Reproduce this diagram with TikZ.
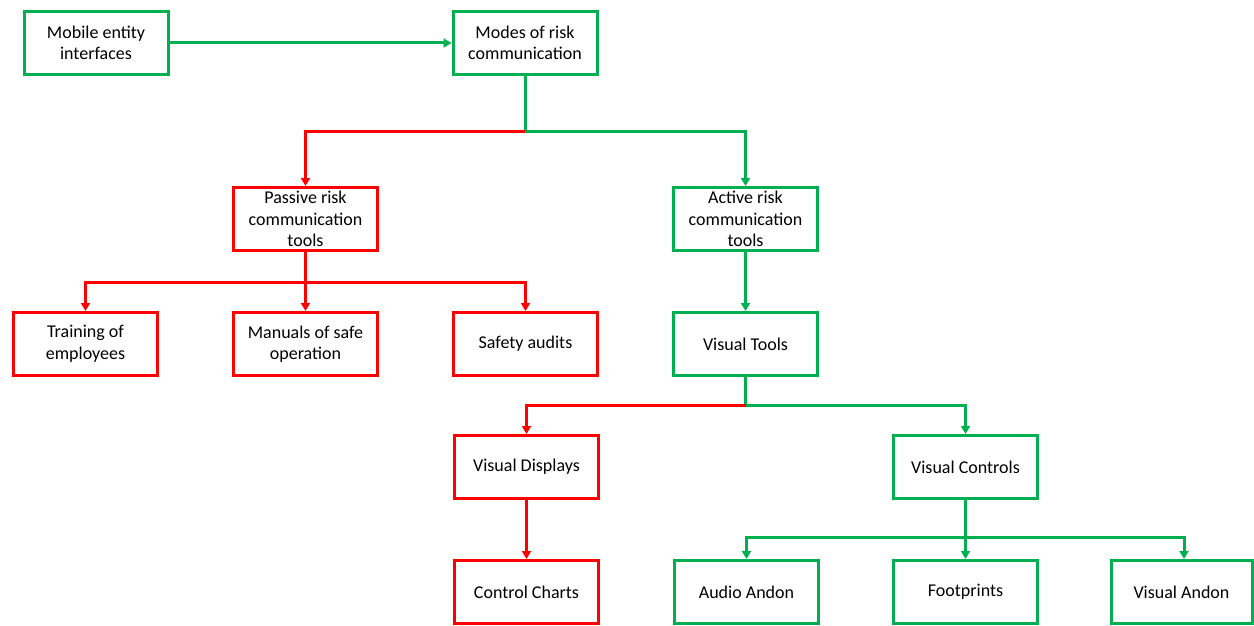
\documentclass[tikz,border=0pt]{standalone}
\usepackage{fontspec}
\setmainfont{Carlito}
\usetikzlibrary{arrows.meta}
\definecolor{okgreen}{HTML}{00B050}
\definecolor{alarmred}{HTML}{FF0000}
\begin{document}
\begin{tikzpicture}[x=1pt,y=-1pt,
  box/.style={draw,line width=3pt,minimum width=144pt,minimum height=63pt,
    inner sep=0pt,align=center,font=\fontsize{18}{21.5}\selectfont},
  gbox/.style={box,draw=okgreen},
  rbox/.style={box,draw=alarmred},
  link/.style={line width=3pt,-{Triangle[length=8pt,width=9pt]}},
  glink/.style={link,draw=okgreen},
  rlink/.style={link,draw=alarmred},
  stem/.style={line width=3pt}]
\useasboundingbox (0,0) rectangle (1254,626);
% top row
\node[gbox] (mob) at (96,43) {Mobile entity\\interfaces};
\node[gbox] (modes) at (525,43) {Modes of risk\\communication};
% second level
\node[rbox] (pass) at (305.5,219) {Passive risk\\communication\\tools};
\node[gbox] (act) at (745.5,219) {Active risk\\communication\\tools};
% passive tools
\node[rbox] (train) at (85.5,344) {Training of\\employees};
\node[rbox] (man) at (305.5,344) {Manuals of safe\\operation};
\node[rbox] (audit) at (525.5,344) {Safety audits};
% active tools
\node[gbox] (vtools) at (745.5,344) {Visual Tools};
\node[rbox] (vdisp) at (526.5,467) {Visual Displays};
\node[gbox] (vctrl) at (965.5,467) {Visual Controls};
\node[rbox] (chart) at (526.5,592) {Control Charts};
\node[gbox] (aud) at (746.5,592) {Audio Andon};
\node[gbox] (foot) at (965.5,592) {Footprints};
\node[gbox,minimum width=141pt] (vand) at (1181.5,592) {Visual Andon};
% connectors
\draw[glink] (mob.east) -- (modes.west);
\draw[stem,okgreen] (modes.south) -- (525,131) coordinate (j1);
\draw[rlink] (j1) -| (pass.north);
\draw[glink] (j1) -| (act.north);
\draw[stem,alarmred] (pass.south) -- (305.5,282) coordinate (j2);
\draw[rlink] (j2) -| (train.north);
\draw[rlink] (j2) -- (man.north);
\draw[rlink] (j2) -| (audit.north);
\draw[glink] (act.south) -- (vtools.north);
\draw[stem,okgreen] (vtools.south) -- (745.5,405) coordinate (j3);
\draw[rlink] (j3) -| (vdisp.north);
\draw[glink] (j3) -| (vctrl.north);
\draw[rlink] (vdisp.south) -- (chart.north);
\draw[stem,okgreen] (vctrl.south) -- (965.5,537) coordinate (j4);
\draw[glink] (j4) -| (aud.north);
\draw[glink] (j4) -- (foot.north);
\draw[glink] (j4) -| ([xshift=2.5pt]vand.north);
\end{tikzpicture}
\end{document}
